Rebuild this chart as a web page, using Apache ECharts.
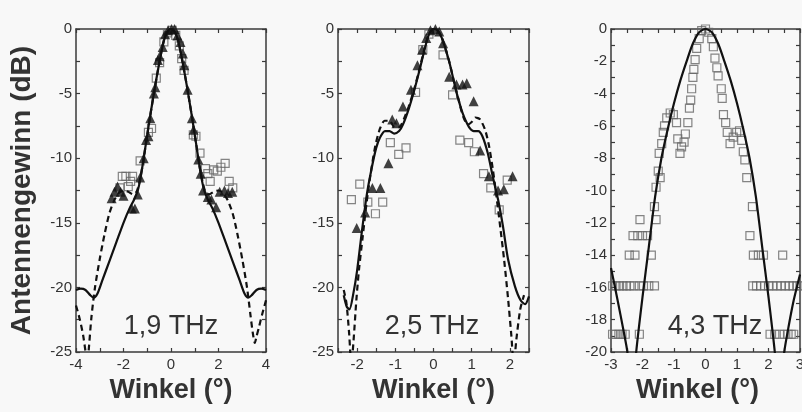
<!DOCTYPE html>
<html>
<head>
<meta charset="utf-8">
<script src="https://cdn.jsdelivr.net/npm/echarts@6/dist/echarts.min.js"></script>
<style>
html,body{margin:0;padding:0;background:#f8f8f8}
#chart{width:802px;height:412px}
</style>
</head>
<body>
<div id="chart"></div>
<script>
// ---------- 1,9 THz ----------
const sim19Solid = [[-4.0,-20.2],[-3.8,-20.1],[-3.6,-20.2],[-3.4,-20.6],[-3.25,-20.8],[-3.1,-20.5],[-2.9,-19.5],[-2.6,-18.0],[-2.3,-16.5],[-2.0,-15.0],[-1.75,-13.9],[-1.55,-13.2],[-1.4,-12.5],[-1.3,-11.7],[-1.2,-10.6],[-1.05,-8.8],[-0.9,-7.0],[-0.75,-5.3],[-0.6,-3.7],[-0.45,-2.2],[-0.3,-0.9],[-0.15,-0.2],[0,0],[0.15,-0.2],[0.3,-0.9],[0.45,-2.2],[0.6,-3.7],[0.75,-5.3],[0.9,-7.0],[1.05,-8.8],[1.2,-10.6],[1.3,-11.7],[1.4,-12.5],[1.55,-13.2],[1.75,-13.9],[2.0,-15.0],[2.3,-16.5],[2.6,-18.0],[2.9,-19.5],[3.1,-20.5],[3.25,-20.8],[3.4,-20.6],[3.6,-20.2],[3.8,-20.1],[4.0,-20.2]];
const sim19Dashed = [[-4.0,-21.4],[-3.85,-22.4],[-3.7,-23.7],[-3.58,-25.2],[-3.52,-25.8],[-3.45,-24.5],[-3.35,-22.3],[-3.2,-20.0],[-3.0,-17.8],[-2.8,-15.9],[-2.6,-14.3],[-2.4,-13.3],[-2.2,-12.7],[-2.0,-12.5],[-1.8,-12.6],[-1.6,-12.8],[-1.45,-12.6],[-1.35,-12.0],[-1.2,-10.6],[-1.05,-8.8],[-0.9,-7.0],[-0.75,-5.3],[-0.6,-3.7],[-0.45,-2.2],[-0.3,-0.9],[-0.15,-0.2],[0,0],[0.15,-0.2],[0.3,-0.9],[0.45,-2.2],[0.6,-3.7],[0.75,-5.3],[0.9,-7.0],[1.05,-8.8],[1.2,-10.6],[1.35,-12.0],[1.45,-12.6],[1.6,-12.8],[1.8,-12.6],[2.0,-12.5],[2.2,-12.7],[2.4,-13.3],[2.6,-14.3],[2.8,-15.9],[3.0,-17.8],[3.2,-20.0],[3.35,-22.2],[3.45,-23.6],[3.53,-24.3],[3.6,-23.8],[3.7,-23.1],[3.85,-22.0],[4.0,-21.0]];
const meas19Tri = [[-2.5,-13.1],[-2.38,-12.6],[-2.25,-12.2],[-2.12,-12.6],[-2.0,-12.9],[-1.65,-13.9],[-1.52,-13.9],[-1.4,-12.8],[-1.3,-11.5],[-1.15,-10.0],[-1.05,-8.6],[-0.95,-8.3],[-0.87,-6.9],[-0.72,-5.0],[-0.66,-4.5],[-0.55,-2.4],[-0.48,-2.1],[-0.35,-1.4],[-0.25,-0.4],[-0.12,-0.1],[0.02,0],[0.15,0],[0.27,-0.5],[0.4,-1.0],[0.5,-1.9],[0.56,-2.8],[0.7,-4.7],[0.88,-6.9],[0.95,-7.8],[1.15,-10.1],[1.25,-11.2],[1.35,-12.5],[1.55,-13.0],[1.7,-13.2],[1.9,-13.8],[2.05,-12.6],[2.25,-12.5],[2.4,-12.7],[2.58,-12.6]];
const meas19Sq = [[-2.15,-12.3],[-2.05,-11.4],[-1.9,-11.4],[-1.8,-12.2],[-1.7,-11.8],[-1.62,-11.4],[-1.3,-10.2],[-0.95,-8.0],[-0.82,-7.7],[-0.62,-3.8],[-0.48,-2.6],[-0.3,-1.0],[-0.15,-0.3],[0.05,-0.1],[0.2,-0.5],[0.35,-1.3],[0.45,-2.3],[0.55,-3.2],[0.94,-8.2],[1.05,-8.3],[1.22,-9.6],[1.45,-10.8],[1.55,-11.2],[1.65,-11.8],[1.8,-10.9],[1.95,-11.0],[2.1,-10.7],[2.28,-10.4],[2.45,-11.8],[2.6,-12.3]];

// ---------- 2,5 THz ----------
const sim25Solid = [[-2.35,-20.6],[-2.27,-21.5],[-2.2,-21.7],[-2.1,-20.5],[-2.0,-18.7],[-1.88,-15.8],[-1.75,-12.9],[-1.62,-10.8],[-1.5,-9.2],[-1.4,-8.4],[-1.27,-7.9],[-1.15,-7.9],[-1.03,-8.1],[-0.9,-7.9],[-0.8,-7.4],[-0.65,-6.2],[-0.5,-4.7],[-0.35,-3.0],[-0.2,-1.2],[-0.1,-0.3],[0,0],[0.1,-0.1],[0.22,-0.7],[0.4,-2.4],[0.53,-4.0],[0.62,-5.1],[0.76,-6.5],[0.93,-7.6],[1.05,-7.9],[1.17,-7.9],[1.28,-8.3],[1.42,-9.6],[1.55,-11.4],[1.69,-13.2],[1.82,-15.3],[1.95,-17.8],[2.13,-19.9],[2.28,-21.0],[2.4,-21.3],[2.5,-20.7]];
const sim25Dashed = [[-2.35,-20.2],[-2.28,-21.2],[-2.21,-23.5],[-2.15,-26],[-2.09,-24.0],[-2.02,-21.0],[-1.95,-18.6],[-1.85,-16.0],[-1.75,-13.4],[-1.63,-10.9],[-1.52,-9.0],[-1.4,-7.7],[-1.28,-7.1],[-1.15,-7.1],[-1.02,-7.6],[-0.9,-7.6],[-0.78,-7.0],[-0.65,-6.0],[-0.5,-4.6],[-0.35,-2.9],[-0.2,-1.1],[-0.1,-0.3],[0,0],[0.1,-0.1],[0.22,-0.7],[0.4,-2.4],[0.53,-4.0],[0.65,-5.4],[0.78,-6.8],[0.9,-7.4],[1.0,-7.2],[1.1,-6.85],[1.22,-7.0],[1.35,-7.8],[1.45,-9.0],[1.55,-10.8],[1.65,-13.0],[1.75,-15.4],[1.85,-17.9],[1.95,-20.8],[2.04,-23.8],[2.1,-26],[2.17,-24.0],[2.27,-21.7],[2.37,-20.6]];
const meas25Tri = [[-2.01,-15.4],[-1.79,-14.2],[-1.6,-12.3],[-1.39,-12.3],[-1.18,-10.4],[-1.08,-7.0],[-0.97,-7.3],[-0.8,-6.0],[-0.59,-4.7],[-0.42,-2.8],[-0.3,-1.6],[-0.19,-0.7],[-0.08,-0.1],[0.05,0],[0.15,-0.2],[0.25,-1.1],[0.41,-3.7],[0.6,-4.3],[0.76,-4.3],[0.87,-4.2],[1.05,-5.6],[1.22,-9.4],[1.45,-11.4],[1.69,-12.5],[1.84,-12.4],[2.07,-11.4]];
const meas25Sq = [[-2.15,-13.2],[-1.93,-12.0],[-1.72,-13.4],[-1.52,-14.3],[-1.33,-13.4],[-1.13,-8.8],[-0.91,-9.7],[-0.72,-9.2],[-0.47,-4.9],[-0.28,-1.6],[-0.12,-0.4],[0.25,-2.0],[0.5,-5.1],[0.69,-8.6],[0.92,-8.8],[1.07,-9.5],[1.31,-11.2],[1.5,-12.3],[1.72,-14.0],[1.93,-11.7]];

// ---------- 4,3 THz ----------
const sim43Solid = [[-3.0,-14.8],[-2.8,-16.7],[-2.6,-18.7],[-2.48,-20.0],[-2.4,-22.0],[-2.34,-26],[-2.27,-22.0],[-2.2,-20.0],[-2.0,-16.6],[-1.8,-13.5],[-1.6,-10.4],[-1.4,-8.0],[-1.2,-6.2],[-1.0,-4.6],[-0.8,-3.2],[-0.6,-2.0],[-0.4,-0.9],[-0.2,-0.2],[0,0],[0.2,-0.2],[0.4,-0.9],[0.6,-2.0],[0.8,-3.2],[1.0,-4.6],[1.2,-6.2],[1.4,-8.0],[1.6,-10.4],[1.8,-13.5],[2.0,-16.6],[2.2,-20.0],[2.28,-22.0],[2.36,-26],[2.42,-22.0],[2.5,-20.0],[2.65,-18.3],[2.8,-16.8],[3.0,-15.2]];
const meas43Sq = [[-0.12,-0.1],[0,0],[0.1,-0.2],
 [-0.2,-0.6],[-0.28,-1.2],[-0.33,-1.9],[-0.37,-2.5],[-0.4,-3.0],[-0.44,-3.7],[-0.47,-4.4],[-0.51,-4.9],[-0.56,-5.8],[-0.64,-6.5],[-0.68,-7.0],[-0.76,-7.3],[-0.81,-7.7],[-0.88,-6.8],[-0.92,-5.8],[-1.02,-5.3],[-1.12,-5.2],[-1.23,-5.5],[-1.3,-6.0],[-1.34,-6.4],[-1.39,-7.1],[-1.47,-7.7],[-1.5,-8.8],[-1.44,-9.2],[-1.57,-9.8],[-1.62,-11.0],[-1.57,-11.8],[-2.08,-11.8],
 [-2.3,-12.8],[-2.15,-12.8],[-2.0,-12.8],[-1.84,-12.8],
 [-2.42,-14.0],[-2.24,-14.0],[-1.72,-14.0],
 [-2.95,-15.9],[-2.84,-15.9],[-2.73,-15.9],[-2.62,-15.9],[-2.51,-15.9],[-2.4,-15.9],[-2.27,-15.9],[-2.1,-15.9],[-1.97,-15.9],[-1.8,-15.9],[-1.62,-15.9],
 [-2.95,-18.9],[-2.85,-18.9],[-2.75,-18.9],[-2.65,-18.9],[-2.55,-18.9],[-2.1,-18.9],
 [0.2,-0.6],[0.25,-1.1],[0.3,-1.8],[0.36,-2.4],[0.4,-2.9],[0.5,-3.7],[0.53,-4.3],[0.57,-5.3],[0.64,-5.8],[0.69,-6.4],[0.78,-7.1],[0.88,-6.7],[0.99,-6.4],[1.08,-6.3],[1.15,-6.9],[1.2,-7.6],[1.25,-8.1],[1.31,-9.2],[1.49,-11.0],[1.41,-12.8],
 [1.52,-14.0],[1.68,-14.0],[1.84,-14.0],[2.45,-14.0],
 [1.5,-15.9],[1.62,-15.9],[1.75,-15.9],[1.88,-15.9],[2.0,-15.9],[2.13,-15.9],[2.27,-15.9],[2.4,-15.9],[2.53,-15.9],[2.66,-15.9],[2.78,-15.9],[2.9,-15.9],[3.0,-15.9],
 [2.05,-18.9],[2.2,-18.9],[2.35,-18.9],[2.5,-18.9],[2.62,-18.9],[2.72,-18.9],[2.8,-18.9]];

// ---------- axes ----------
const panelLabels = ['1,9 THz', '2,5 THz', '4,3 THz'];
const xRanges = [[-4, 4], [-2.5, 2.5], [-3, 3]];
const yRanges = [[-25, 0], [-25, 0], [-20, 0]];
const xTickStep = [1, 0.5, 0.5];
const xLabelStep = [2, 1, 1];
const yTickStep = [2.5, 2.5, 1];
const yLabelStep = [5, 5, 2];
const xTitle = 'Winkel (°)';
const yTitle = 'Antennengewinn (dB)';

const ink = '#333';
const axisInk = '#3a3a3a';
const fontFam = '"Liberation Sans", Arial, sans-serif';

const grids = [
  { left: 76, top: 29, width: 190, height: 323 },
  { left: 338, top: 29, width: 191, height: 323 },
  { left: 611, top: 29, width: 189, height: 323 }
];
const labelPos = [[171, 327], [432, 327], [715, 327]];

function every(step) {
  return v => (Math.abs(v / step - Math.round(v / step)) < 1e-6 ? String(Math.round(v * 10) / 10) : '');
}
function baseAxis(gi, range, step, position, withLabels, labelStep) {
  return {
    type: 'value', gridIndex: gi, position: position,
    min: range[0], max: range[1], interval: step,
    axisLine: { show: true, onZero: false, lineStyle: { color: axisInk, width: 1.5 } },
    axisTick: { show: true, inside: true, length: 4, lineStyle: { color: axisInk, width: 1.2 } },
    splitLine: { show: false },
    axisLabel: withLabels ? {
      show: true, formatter: every(labelStep), fontSize: 15, color: ink, fontFamily: fontFam,
      margin: 5, showMinLabel: true, showMaxLabel: true
    } : { show: false }
  };
}

const xAxes = [], yAxes = [];
for (let i = 0; i < 3; i++) {
  const xb = baseAxis(i, xRanges[i], xTickStep[i], 'bottom', true, xLabelStep[i]);
  xb.name = xTitle;
  xb.nameLocation = 'middle';
  xb.nameGap = 25;
  xb.nameTextStyle = { fontSize: 27, fontWeight: 'bold', color: ink, fontFamily: fontFam,
    padding: i === 2 ? [0, 16, 0, 0] : 0 };
  xAxes.push(xb);
  const yl = baseAxis(i, yRanges[i], yTickStep[i], 'left', true, yLabelStep[i]);
  yl.axisLabel.margin = 4;
  if (i === 0) {
    yl.name = yTitle;
    yl.nameLocation = 'middle';
    yl.nameGap = 40;
    yl.nameRotate = 90;
    yl.nameTextStyle = { fontSize: 28, fontWeight: 'bold', color: ink, fontFamily: fontFam };
  }
  yAxes.push(yl);
}
for (let i = 0; i < 3; i++) {
  xAxes.push(baseAxis(i, xRanges[i], xTickStep[i], 'top', false));
  yAxes.push(baseAxis(i, yRanges[i], yTickStep[i], 'right', false));
}

function squares(i, data) {
  return { type: 'scatter', xAxisIndex: i, yAxisIndex: i, data: data, symbol: 'rect', symbolSize: 8,
    itemStyle: { color: 'rgba(0,0,0,0)', borderColor: '#666', borderWidth: 1.2 }, z: 2 };
}
function triangles(i, data) {
  return { type: 'scatter', xAxisIndex: i, yAxisIndex: i, data: data, symbol: 'triangle', symbolSize: 10,
    itemStyle: { color: '#111' }, z: 4 };
}
function curve(i, data, dashed) {
  return { type: 'line', xAxisIndex: i, yAxisIndex: i, data: data, showSymbol: false, smooth: 0.25,
    clip: true, lineStyle: { color: '#111', width: 2.2, type: dashed ? [6, 4] : 'solid' }, z: 3 };
}

const option = {
  backgroundColor: '#f8f8f8',
  animation: false,
  grid: grids.map(g => Object.assign({ containLabel: false, outerBoundsMode: 'none', show: false }, g)),
  xAxis: xAxes,
  yAxis: yAxes,
  series: [
    squares(0, meas19Sq), curve(0, sim19Solid, false), curve(0, sim19Dashed, true), triangles(0, meas19Tri),
    squares(1, meas25Sq), curve(1, sim25Solid, false), curve(1, sim25Dashed, true), triangles(1, meas25Tri),
    squares(2, meas43Sq), curve(2, sim43Solid, false)
  ],
  graphic: panelLabels.map((t, i) => ({
    type: 'text', x: labelPos[i][0], y: labelPos[i][1], z: 10,
    style: { text: t, font: '27px ' + fontFam, fill: ink, align: 'center', verticalAlign: 'middle',
      textAlign: 'center', textVerticalAlign: 'middle' }
  }))
};

const chart = echarts.init(document.getElementById('chart'), null, { renderer: 'canvas' });
chart.setOption(option);
</script>
</body>
</html>
